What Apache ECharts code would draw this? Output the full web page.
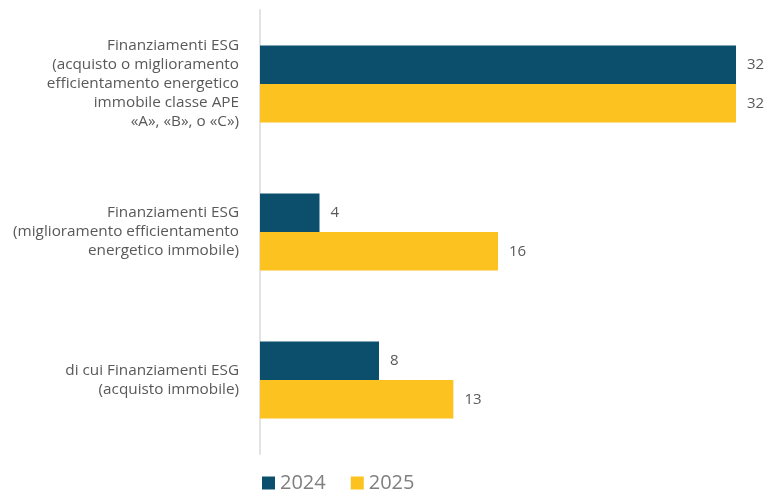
<!DOCTYPE html>
<html><head><meta charset="utf-8">
<script src="https://cdn.jsdelivr.net/npm/echarts@6/dist/echarts.min.js"></script>
<style>html,body{margin:0;padding:0;background:#fff}#c{width:768px;height:499px}</style>
</head><body><div id="c"></div>
<script>
const categories = [
  "Finanziamenti ESG\n(acquisto o miglioramento\nefficientamento energetico\nimmobile classe APE\n«A», «B», o «C»)",
  "Finanziamenti ESG\n(miglioramento efficientamento\nenergetico immobile)",
  "di cui Finanziamenti ESG\n(acquisto immobile)"
];
const seriesNames = ["2024", "2025"];
const values2024 = [32, 4, 8];
const values2025 = [32, 16, 13];

const chart = echarts.init(document.getElementById('c'));
const labelStyle = {show: true, position: 'right', distance: 11, color: '#595959', fontSize: 15, fontFamily: 'Open Sans'};
chart.setOption({
  animation: false,
  textStyle: {fontFamily: 'Open Sans'},
  grid: {left: 260, right: 32, top: 10, bottom: 45, containLabel: false},
  legend: {
    data: seriesNames, left: 257, bottom: 1, itemWidth: 13, itemHeight: 13, itemGap: 25,
    icon: 'rect',
    textStyle: {color: '#7f7f7f', fontSize: 20, fontFamily: 'Open Sans'}
  },
  xAxis: {type: 'value', min: 0, max: 32, show: false},
  yAxis: {
    type: 'category', data: categories, inverse: true,
    axisLine: {show: true, lineStyle: {color: '#e3e3e3', width: 2}},
    axisTick: {show: false},
    axisLabel: {color: '#595959', fontSize: 15.3, lineHeight: 19, margin: 21, align: 'right', fontFamily: 'Open Sans'}
  },
  series: [
    {name: seriesNames[0], type: 'bar', data: values2024, itemStyle: {color: '#0B4F6C'}, barGap: '0%', barCategoryGap: '48%', label: labelStyle},
    {name: seriesNames[1], type: 'bar', data: values2025, itemStyle: {color: '#FCC21F'}, barGap: '0%', barCategoryGap: '48%', label: labelStyle}
  ]
});
</script></body></html>
